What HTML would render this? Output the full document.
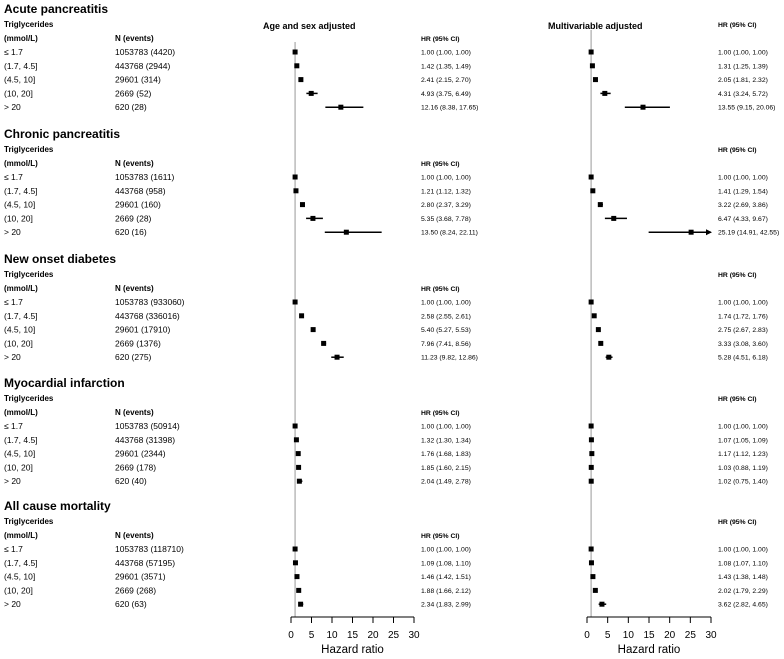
<!DOCTYPE html>
<html><head><meta charset="utf-8"><style>
html,body{margin:0;padding:0;background:#fff;}
svg{display:block;font-family:"Liberation Sans",Arial,sans-serif;}
</style></head><body>
<svg id="c" width="784" height="659"></svg>
<script>
const outcomes=["Acute pancreatitis","Chronic pancreatitis","New onset diabetes","Myocardial infarction","All cause mortality"];
const categories=["≤ 1.7","(1.7, 4.5]","(4.5, 10]","(10, 20]","> 20"];
const nEvents=[
["1053783 (4420)","443768 (2944)","29601 (314)","2669 (52)","620 (28)"],
["1053783 (1611)","443768 (958)","29601 (160)","2669 (28)","620 (16)"],
["1053783 (933060)","443768 (336016)","29601 (17910)","2669 (1376)","620 (275)"],
["1053783 (50914)","443768 (31398)","29601 (2344)","2669 (178)","620 (40)"],
["1053783 (118710)","443768 (57195)","29601 (3571)","2669 (268)","620 (63)"]];
const ageHR=[[1,1.42,2.41,4.93,12.16],[1,1.21,2.80,5.35,13.50],[1,2.58,5.40,7.96,11.23],[1,1.32,1.76,1.85,2.04],[1,1.09,1.46,1.88,2.34]];
const ageLo=[[1,1.35,2.15,3.75,8.38],[1,1.12,2.37,3.68,8.24],[1,2.55,5.27,7.41,9.82],[1,1.30,1.68,1.60,1.49],[1,1.08,1.42,1.66,1.83]];
const ageHi=[[1,1.49,2.70,6.49,17.65],[1,1.32,3.29,7.78,22.11],[1,2.61,5.53,8.56,12.86],[1,1.34,1.83,2.15,2.78],[1,1.10,1.51,2.12,2.99]];
const mvHR=[[1,1.31,2.05,4.31,13.55],[1,1.41,3.22,6.47,25.19],[1,1.74,2.75,3.33,5.28],[1,1.07,1.17,1.03,1.02],[1,1.08,1.43,2.02,3.62]];
const mvLo=[[1,1.25,1.81,3.24,9.15],[1,1.29,2.69,4.33,14.91],[1,1.72,2.67,3.08,4.51],[1,1.05,1.12,0.88,0.75],[1,1.07,1.38,1.79,2.82]];
const mvHi=[[1,1.39,2.32,5.72,20.06],[1,1.54,3.86,9.67,42.55],[1,1.76,2.83,3.60,6.18],[1,1.09,1.23,1.19,1.40],[1,1.10,1.48,2.29,4.65]];
const ticks=[0,5,10,15,20,25,30];
const rowStarts=[52,177,302,426,549];

const NS="http://www.w3.org/2000/svg";
const svg=document.getElementById('c');
function el(t,a,txt){const e=document.createElementNS(NS,t);for(const k in a)e.setAttribute(k,a[k]);if(txt!==undefined)e.textContent=txt;svg.appendChild(e);return e;}
const xL=v=>291+v*(123/30);
const xR=v=>587+v*(124/30);
const f=v=>v.toFixed(2);
let g=el('line',{x1:xL(1),x2:xL(1),y1:42,y2:617,stroke:'#bbb','stroke-width':1.5});

g=el('line',{x1:xR(1),x2:xR(1),y1:30,y2:617,stroke:'#bbb','stroke-width':1.5});

let t=el('text',{x:263,y:29,'font-size':9,'font-weight':'bold'},'Age and sex adjusted');

t=el('text',{x:548,y:29,'font-size':9,'font-weight':'bold'},'Multivariable adjusted');


function drawCI(sx,lo,hi,hr,y,name){
  const cap=30;let hiV=Math.min(hi,cap);
  let l=el('line',{x1:sx(lo),x2:sx(hiV),y1:y,y2:y,stroke:'#000','stroke-width':1.5});
  
  if(hi>cap){let a=el('path',{d:`M${sx(cap)-5},${y-3} L${sx(cap)+1},${y} L${sx(cap)-5},${y+3}Z`,fill:'#000'});
    }
  let r=el('rect',{x:sx(hr)-2.5,y:y-2.5,width:5,height:5,fill:'#000'});
  
}
outcomes.forEach((o,i)=>{
  const r0=rowStarts[i];
  let e=el('text',{x:4,y:r0-39,'font-size':12,'font-weight':'bold'},o);
  
  e=el('text',{x:4,y:r0-25,'font-size':8,'font-weight':'bold'},'Triglycerides');
  
  e=el('text',{x:4,y:r0-11,'font-size':8,'font-weight':'bold'},'(mmol/L)');
  
  e=el('text',{x:115,y:r0-11,'font-size':8,'font-weight':'bold'},'N (events)');
  
  e=el('text',{x:421,y:r0-11,'font-size':6.8,'font-weight':'bold'},'HR (95% CI)');
  
  e=el('text',{x:718,y:r0-25,'font-size':6.8,'font-weight':'bold'},'HR (95% CI)');
  
  categories.forEach((c,j)=>{
    const y=r0+j*13.8;
    let a=el('text',{x:4,y:y+3,'font-size':8.5},c);
    
    a=el('text',{x:115,y:y+3,'font-size':8.5},nEvents[i][j]);
    
    drawCI(xL,ageLo[i][j],ageHi[i][j],ageHR[i][j],y,'age-sex');
    drawCI(xR,mvLo[i][j],mvHi[i][j],mvHR[i][j],y,'multivariable');
    a=el('text',{x:421,y:y+2.5,'font-size':6.8},`${f(ageHR[i][j])} (${f(ageLo[i][j])}, ${f(ageHi[i][j])})`);
    
    a=el('text',{x:718,y:y+2.5,'font-size':6.8},`${f(mvHR[i][j])} (${f(mvLo[i][j])}, ${f(mvHi[i][j])})`);
    
  });
});
[[xL,'age-sex'],[xR,'multivariable']].forEach(([sx,n])=>{
  let a=el('line',{x1:sx(0),x2:sx(30),y1:617,y2:617,stroke:'#000','stroke-width':1});
  
  ticks.forEach(tk=>{
    let l=el('line',{x1:sx(tk),x2:sx(tk),y1:617,y2:623,stroke:'#000'});
    
    let tt=el('text',{x:sx(tk),y:638,'font-size':10,'text-anchor':'middle'},String(tk));
    
  });
  let tl=el('text',{x:sx(15),y:653,'font-size':11.5,'text-anchor':'middle'},'Hazard ratio');
  
});
</script>
</body></html>
